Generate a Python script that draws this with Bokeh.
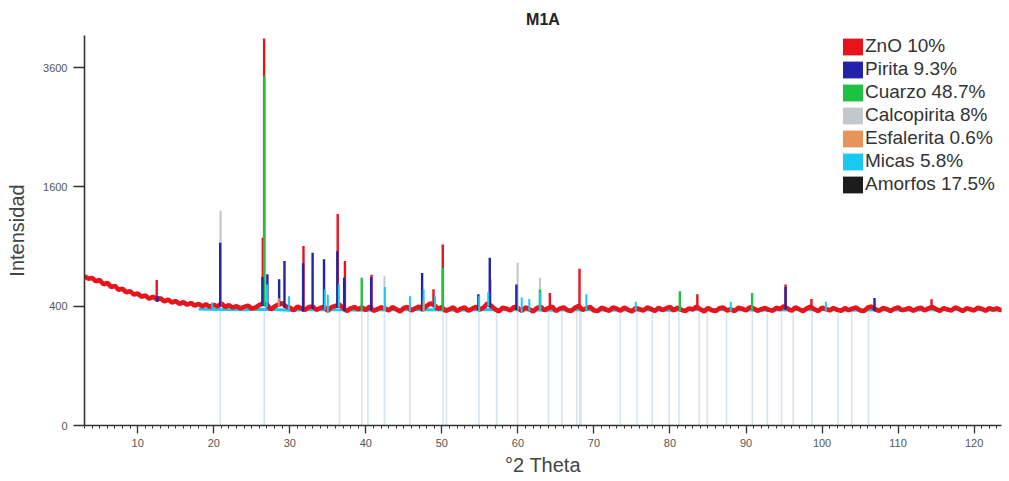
import numpy as np
from bokeh.plotting import figure
from bokeh.models import (Legend, LegendItem, SingleIntervalTicker,
                          FixedTicker, Range1d, CustomJSTickFormatter)
from bokeh.embed import file_html
from bokeh.resources import INLINE

# ---------------- data ----------------
title = "M1A"
x_label = "°2 Theta"
y_label = "Intensidad"
y_tick_values = [0, 400, 1600, 3600]

# observed pattern (ZnO colour trace), 0.5° steps starting at 3°
theta_start = 3.0
theta_step = 0.5
obs_row_01 = [628, 606, 612, 585, 596, 560, 572, 540, 548, 518, 526, 498, 508, 482, 490, 466, 476, 452, 466, 448]
obs_row_02 = [455, 432, 446, 425, 436, 415, 428, 410, 422, 404, 416, 400, 412, 396, 410, 398, 420, 394, 408, 390]
obs_row_03 = [400, 386, 396, 404, 384, 392, 408, 420, 410, 378, 398, 412, 420, 398, 390, 372, 398, 386, 376, 394]
obs_row_04 = [398, 376, 388, 396, 370, 394, 402, 412, 390, 368, 386, 394, 380, 392, 374, 398, 370, 380, 392, 386]
obs_row_05 = [372, 394, 380, 366, 388, 396, 372, 386, 398, 378, 402, 420, 408, 382, 394, 370, 380, 392, 368, 384]
obs_row_06 = [392, 370, 384, 396, 378, 392, 420, 402, 380, 366, 390, 384, 372, 396, 388, 370, 392, 380, 366, 388]
obs_row_07 = [396, 374, 388, 398, 368, 384, 392, 374, 368, 390, 402, 376, 386, 396, 372, 368, 390, 380, 370, 392]
obs_row_08 = [384, 370, 392, 376, 366, 388, 380, 372, 392, 382, 368, 390, 374, 386, 396, 372, 390, 376, 368, 386]
obs_row_09 = [378, 398, 380, 366, 388, 374, 368, 386, 392, 372, 380, 368, 390, 384, 372, 394, 386, 370, 380, 388]
obs_row_10 = [376, 370, 390, 382, 400, 384, 370, 392, 380, 368, 386, 398, 380, 368, 390, 382, 372, 388, 376, 370]
obs_row_11 = [388, 374, 384, 392, 372, 368, 390, 398, 380, 370, 388, 382, 368, 384, 392, 374, 380, 388, 370, 384]
obs_row_12 = [390, 372, 386, 396, 380, 370, 388, 378, 372, 392, 382, 368, 386, 380, 372, 390, 384, 370, 388, 378]
obs_row_13 = [386, 374, 382]

# Micas background trace
micas_base_theta = [18, 21, 24, 27, 30, 33, 36, 40, 44, 48, 52, 56, 60, 64, 68, 72, 76,
                    80, 84, 88, 92, 96, 100, 104, 108, 112, 116, 120, 124]
micas_base_int = [382, 378, 376, 380, 374, 378, 376, 374, 378, 376, 374, 378, 376, 374, 378,
                  374, 376, 374, 378, 376, 374, 376, 378, 374, 376, 374, 378, 376, 374]

# reference positions (pale sticks)
ref_theta = [20.86, 26.64, 36.54, 39.46, 40.29, 42.45, 45.79, 50.14, 50.6, 54.87, 57.2, 59.96,
             64.03, 65.79, 67.74, 68.14, 68.3, 73.47, 75.66, 77.67, 79.88, 81.17, 83.84, 84.9,
             87.44, 90.83, 92.8, 94.66, 96.2, 98.7, 102.1, 103.9, 106.1]
ref_int = [1300, 400, 400, 400, 400, 400, 400, 400, 400, 400, 400, 400,
           400, 400, 400, 400, 400, 400, 400, 400, 400, 400, 400, 400,
           400, 400, 400, 400, 400, 400, 400, 400, 400]

# phase peaks
zno_theta = [12.5, 26.45, 26.62, 31.8, 36.3, 37.25, 40.75, 48.9, 50.12, 56.35, 64.2, 68.1, 83.6, 95.2, 98.6, 114.4]
zno_int = [595, 990, 4210, 905, 1257, 760, 640, 522, 922, 600, 494, 690, 485, 560, 450, 448]

pirita_theta = [12.6, 20.85, 26.4, 27.05, 28.6, 29.3, 31.75, 33.0, 34.5, 36.25, 37.15, 40.7,
                47.4, 54.8, 56.3, 59.8, 95.2, 106.9]
pirita_int = [470, 939, 620, 644, 602, 760, 741, 839, 778, 855, 613, 619, 655, 485, 791, 560, 540, 458]

cuarzo_theta = [26.64, 39.46, 50.14, 62.9, 81.3, 90.8]
cuarzo_int = [3440, 613, 700, 520, 507, 494]

calco_theta = [20.9, 42.45, 59.96, 62.9]
calco_int = [1295, 627, 745, 613]

esfal_theta = [28.55, 47.6]
esfal_int = [455, 440]

micas_theta = [19.8, 27.0, 29.9, 34.6, 35.0, 36.45, 42.5, 45.8, 47.6, 49.1, 54.9, 56.1,
               60.5, 61.5, 62.95, 69.0, 75.5, 88.0, 100.5]
micas_int = [425, 560, 470, 520, 480, 560, 540, 470, 520, 470, 470, 500, 460, 450, 500, 485, 430, 430, 430]

legend_labels = ["ZnO 10%", "Pirita 9.3%", "Cuarzo 48.7%", "Calcopirita 8%",
                 "Esfalerita 0.6%", "Micas 5.8%", "Amorfos 17.5%"]

# ---------------- style ----------------
C_ZNO = "#e8141c"
C_PIR = "#2323a8"
C_CUA = "#1dc143"
C_CAL = "#c3c8cc"
C_ESF = "#e8935a"
C_MIC = "#19c9f0"
C_AMO = "#1c1c1c"
C_REF = "#d6e4f1"
FONT = "Liberation Sans"

observed = (obs_row_01 + obs_row_02 + obs_row_03 + obs_row_04 + obs_row_05 + obs_row_06 +
            obs_row_07 + obs_row_08 + obs_row_09 + obs_row_10 + obs_row_11 + obs_row_12 + obs_row_13)
theta = theta_start + theta_step * np.arange(len(observed))
obs = np.array(observed, dtype=float)

p = figure(width=1004, height=478, output_backend="svg", toolbar_location=None,
           x_range=Range1d(3.0, 123.6), y_range=Range1d(0, 65.4),
           min_border_left=84, min_border_right=3, min_border_top=35, min_border_bottom=53)
p.outline_line_color = None
p.grid.visible = False
p.background_fill_color = "white"

p.title.text = title
p.title.align = "center"
p.title.text_font = FONT
p.title.text_font_size = "16px"
p.title.text_font_style = "bold"
p.title.text_color = "#222222"
p.title.standoff = 15

def sq(v):
    return np.sqrt(np.asarray(v, dtype=float))

# pale reference sticks
p.segment(x0=ref_theta, y0=np.zeros(len(ref_theta)), x1=ref_theta, y1=sq(ref_int),
          line_color=C_REF, line_width=1.6)

# micas background
p.line(micas_base_theta, sq(micas_base_int), line_color=C_MIC, line_width=3)

def sticks(th, it, color, width=2.2):
    base = np.interp(th, theta, obs) * 0.96
    return p.segment(x0=th, y0=sq(base), x1=th, y1=sq(it), line_color=color, line_width=width)

# observed peaks (drawn first so the phases sit in front)
sticks(zno_theta, zno_int, C_ZNO, 2.4)
# observed trace
p.line(theta, sq(obs), line_color=C_ZNO, line_width=4.6)
sticks(calco_theta, calco_int, C_CAL, 2.0)
sticks(cuarzo_theta, cuarzo_int, C_CUA, 2.4)
sticks(pirita_theta, pirita_int, C_PIR, 2.4)
sticks(micas_theta, micas_int, C_MIC, 2.0)
sticks(esfal_theta, esfal_int, C_ESF, 2.0)

# legend (swatch renderers lie outside the visible x range)
colors = [C_ZNO, C_PIR, C_CUA, C_CAL, C_ESF, C_MIC, C_AMO]
items = []
for lab, col in zip(legend_labels, colors):
    r = p.quad(left=[-20], right=[-19], top=[1], bottom=[0], fill_color=col, line_color=None)
    items.append(LegendItem(label=lab, renderers=[r]))
legend = Legend(items=items, location="top_right")
legend.label_text_font = FONT
legend.label_text_font_size = "19px"
legend.label_text_color = "#333333"
legend.glyph_width = 25
legend.glyph_height = 21
legend.label_height = 21
legend.label_width = 136
legend.spacing = 1
legend.padding = 0
legend.margin = 0
legend.label_standoff = 0
legend.border_line_color = None
legend.background_fill_alpha = 0
p.add_layout(legend)

# axes
p.xaxis.ticker = SingleIntervalTicker(interval=10, num_minor_ticks=10)
p.yaxis.ticker = FixedTicker(ticks=list(sq(y_tick_values)))
p.yaxis.formatter = CustomJSTickFormatter(code="return String(Math.round(tick*tick))")
for ax in (p.xaxis[0], p.yaxis[0]):
    ax.axis_line_color = "#333333"
    ax.axis_line_width = 1.6
    ax.major_tick_line_color = "#333333"
    ax.minor_tick_line_color = "#333333"
    ax.major_tick_line_width = 1.3
    ax.minor_tick_line_width = 1
    ax.major_tick_in = 0
    ax.minor_tick_in = 0
    ax.major_label_text_font = FONT
    ax.major_label_text_font_size = "11px"
    ax.major_label_text_color = "#555555"
    ax.axis_label_text_font = FONT
    ax.axis_label_text_font_size = "20px"
    ax.axis_label_text_font_style = "normal"
    ax.axis_label_text_color = "#444444"
p.xaxis.major_tick_out = 8
p.xaxis.minor_tick_out = 3
p.yaxis.major_tick_out = 11
p.yaxis.minor_tick_out = 0
p.xaxis.major_label_standoff = 5
p.yaxis.major_label_standoff = 6
p.xaxis.axis_label = x_label
p.yaxis.axis_label = y_label
p.xaxis.axis_label_standoff = 4
p.yaxis.axis_label_standoff = 12

open("out.html", "w").write(file_html(p, INLINE))
